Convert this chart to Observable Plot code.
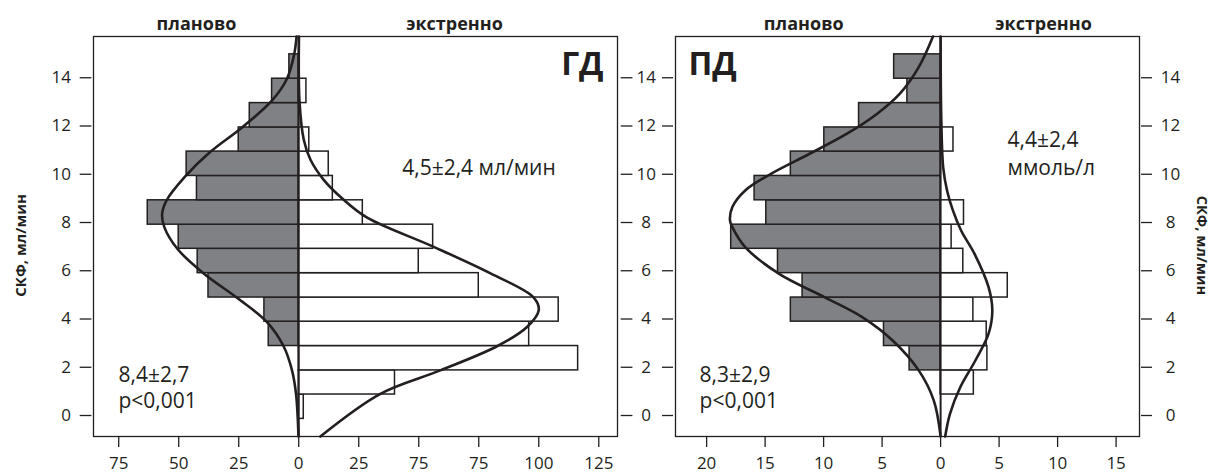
<!DOCTYPE html>
<html><head><meta charset="utf-8">
<script src="https://cdn.jsdelivr.net/npm/d3@7"></script>
<script src="https://cdn.jsdelivr.net/npm/@observablehq/plot@0.6"></script>
<style>
body{margin:0;background:#fff;}
#wrap{position:relative;width:1212px;height:474px;overflow:hidden;}
#p1{position:absolute;left:0;top:0;}
#p2{position:absolute;left:660px;top:0;}
</style></head><body><div id="wrap"><div id="p1"></div><div id="p2"></div></div>
<script>
// bins of СКФ (lower / upper edges)
const binLow  = [-0.14, 0.87, 1.87, 2.88, 3.89, 4.89, 5.90, 6.91, 7.91, 8.92, 9.93, 10.94, 11.94, 12.95, 13.96];
const binHigh = [0.87, 1.87, 2.88, 3.89, 4.89, 5.90, 6.91, 7.91, 8.92, 9.93, 10.94, 11.94, 12.95, 13.96, 14.97];

// ГД panel
const hdPlanned   = [0, 0, 0, 12.5, 14.3, 37.6, 42.1, 50, 62.9, 42.4, 46.7, 25, 20.4, 11.1, 3.9];
const hdEmergency = [2.1, 40.1, 116.4, 96, 108.3, 75, 50, 56, 26.7, 14.2, 12.5, 4.4, 0, 3.2, 0];
// ПД panel
const pdPlanned   = [0, 0, 2.65, 4.84, 12.8, 11.8, 13.9, 17.9, 14.9, 15.9, 12.8, 9.94, 6.97, 2.84, 3.97];
const pdEmergency = [0, 2.84, 4.0, 3.94, 2.8, 5.74, 1.94, 0.94, 2.0, 0, 0, 1.1, 0, 0, 0];

// fitted curves
const hdPlannedCurveY = [15.71, 14.97, 13.96, 13.06, 11.94, 10.93, 9.92, 8.91, 8.36, 7.81, 6.89, 5.89, 4.88, 3.87, 2.86, 1.87, 0.87, -0.87];
const hdPlannedCurveX = [-0.9, -1.9, -4.9, -11.1, -23.6, -36.8, -47.2, -55.1, -56.9, -56.0, -50.4, -39.6, -25.7, -13.2, -6.25, -2.8, -1.1, -0.1];
const hdEmergencyCurveY = [15.71, 13.06, 11.43, 10.6, 9.77, 8.94, 8.2, 7.0, 5.89, 4.89, 4.37, 3.67, 2.87, 1.87, 0.90, -0.87];
const hdEmergencyCurveX = [0.1, 0.3, 2.1, 4.9, 10.4, 18.75, 28.5, 56, 79.9, 97.9, 100, 95.1, 82.6, 59, 34, 9];
const pdPlannedCurveY = [15.71, 14.44, 13.34, 12.51, 11.68, 10.85, 10.02, 9.33, 8.64, 8.08, 7.81, 6.98, 5.87, 4.90, 4.08, 3.11, 1.87, 0.62, -0.87];
const pdPlannedCurveX = [-0.65, -1.87, -3.48, -5.42, -8.0, -11.2, -14.5, -16.7, -17.8, -18.0, -17.8, -16.7, -13.8, -9.9, -6.7, -4.1, -1.87, -0.58, 0];
const pdEmergencyCurveY = [15.71, 12.5, 10.29, 9.33, 8.5, 7.67, 6.70, 5.32, 4.35, 3.39, 2.28, 1.17, 0.07, -0.87];
const pdEmergencyCurveX = [0.0, 0.05, 0.22, 0.55, 1.05, 1.75, 2.9, 4.1, 4.42, 4.1, 2.97, 1.68, 0.8, 0.39];

// ticks
const yTicks = [0, 2, 4, 6, 8, 10, 12, 14];
const hdTicks = [-75, -50, -25, 0, 25, 50, 75, 100, 125];
const hdTickLabels = ["75", "50", "25", "0", "25", "75", "75", "100", "125"];
const pdTicks = [-20, -15, -10, -5, 0, 5, 10, 15];
const pdTickLabels = ["20", "15", "10", "5", "0", "5", "10", "15"];

// texts
const yLabel = "СКФ, мл/мин";
const headPlanned = "планово";
const headEmergency = "экстренно";
const hdTitle = "ГД", pdTitle = "ПД";
const hdEmText = "4,5±2,4 мл/мин";
const hdPlText = "8,4±2,7";
const pdEmText1 = "4,4±2,4", pdEmText2 = "ммоль/л";
const pdPlText = "8,3±2,9";
const pText = "p<0,001";

const FONT = "'Open Sans', Roboto, sans-serif";
const INK = "#231f20";
const GRAY = "#808184";

const bins = (vals) => binLow.map((lo, i) => ({lo, hi: binHigh[i], v: vals[i]})).filter(d => d.v > 0);
const pts = (xs, ys) => xs.map((x, i) => ({x, y: ys[i]}));
const label = (s, x, y, o = {}) => Plot.text([s], {x: () => x, y: () => y, text: d => d, fill: INK, ...o});

function panel({width, marginLeft, marginRight, xdomain, ticks, tickLabels, planned, emergency, plCurve, emCurve, extra}) {
  return Plot.plot({
    width, height: 474, marginLeft, marginRight, marginTop: 36, marginBottom: 38,
    style: {background: "transparent", overflow: "visible", fontFamily: FONT, fontSize: "17px", color: INK},
    x: {domain: xdomain},
    y: {domain: [-0.87, 15.71]},
    marks: [
      Plot.rectX(bins(planned), {x1: d => -d.v, x2: () => 0, y1: "lo", y2: "hi", fill: GRAY, stroke: INK, strokeWidth: 1.5}),
      Plot.rectX(bins(emergency), {x1: () => 0, x2: "v", y1: "lo", y2: "hi", fill: "white", stroke: INK, strokeWidth: 1.5}),
      Plot.ruleX([0], {stroke: INK, strokeWidth: 2}),
      Plot.line(plCurve, {x: "x", y: "y", curve: "catmull-rom", stroke: INK, strokeWidth: 2.6}),
      Plot.line(emCurve, {x: "x", y: "y", curve: "catmull-rom", stroke: INK, strokeWidth: 2.6}),
      Plot.frame({stroke: INK, strokeWidth: 1.3}),
      Plot.axisX({ticks, tickFormat: d => tickLabels[ticks.indexOf(d)], tickSize: 11, tickPadding: 9, strokeWidth: 1.3}),
      ...extra
    ]
  });
}

const p1 = panel({
  width: 660, marginLeft: 93, marginRight: 43, xdomain: [-85.5, 132.8],
  ticks: hdTicks, tickLabels: hdTickLabels, planned: hdPlanned, emergency: hdEmergency,
  plCurve: pts(hdPlannedCurveX, hdPlannedCurveY), emCurve: pts(hdEmergencyCurveX, hdEmergencyCurveY),
  extra: [
    Plot.axisY({anchor: "left", ticks: yTicks, tickSize: 11.7, dx: -1.6, tickPadding: 9.3, strokeWidth: 1.3}),
    Plot.axisY({anchor: "right", ticks: yTicks, tickSize: 11.7, dx: 2.7, tickPadding: 14.3, textAnchor: "middle", strokeWidth: 1.3}),
    label(headPlanned, -42.6, 16.21, {fontWeight: "bold", fontSize: 18}),
    label(headEmergency, 64.9, 16.21, {fontWeight: "bold", fontSize: 18}),
    label(hdTitle, 127, 14.54, {textAnchor: "end", fontWeight: "bold", fontSize: 32}),
    label(hdEmText, 43.1, 10.23, {textAnchor: "start", fontSize: 21}),
    label(hdPlText, -75.1, 1.66, {textAnchor: "start", fontSize: 21}),
    label(pText, -75.1, 0.58, {textAnchor: "start", fontSize: 21}),
    label(yLabel, -115.5, 7.05, {rotate: -90, fontWeight: "bold", fontSize: 15})
  ]
});

const p2 = panel({
  width: 552, marginLeft: 15, marginRight: 73, xdomain: [-22.66, 17.0],
  ticks: pdTicks, tickLabels: pdTickLabels, planned: pdPlanned, emergency: pdEmergency,
  plCurve: pts(pdPlannedCurveX, pdPlannedCurveY), emCurve: pts(pdEmergencyCurveX, pdEmergencyCurveY),
  extra: [
    Plot.axisY({anchor: "left", ticks: yTicks, tickSize: 11, dx: -2, tickFormat: () => "", strokeWidth: 1.3}),
    Plot.axisY({anchor: "right", ticks: yTicks, tickSize: 11, dx: 1, tickPadding: 19, textAnchor: "middle", strokeWidth: 1.3}),
    label(headPlanned, -11.7, 16.21, {fontWeight: "bold", fontSize: 18}),
    label(headEmergency, 8.8, 16.21, {fontWeight: "bold", fontSize: 18}),
    label(pdTitle, -21.55, 14.54, {textAnchor: "start", fontWeight: "bold", fontSize: 32}),
    label(pdEmText1, 5.72, 11.40, {textAnchor: "start", fontSize: 21}),
    label(pdEmText2, 5.72, 10.24, {textAnchor: "start", fontSize: 21}),
    label(pdPlText, -20.6, 1.66, {textAnchor: "start", fontSize: 21}),
    label(pText, -20.6, 0.58, {textAnchor: "start", fontSize: 21}),
    label(yLabel, 22.35, 7.05, {rotate: 90, fontWeight: "bold", fontSize: 14.5})
  ]
});

document.getElementById("p1").appendChild(p1);
document.getElementById("p2").appendChild(p2);
</script></body></html>
